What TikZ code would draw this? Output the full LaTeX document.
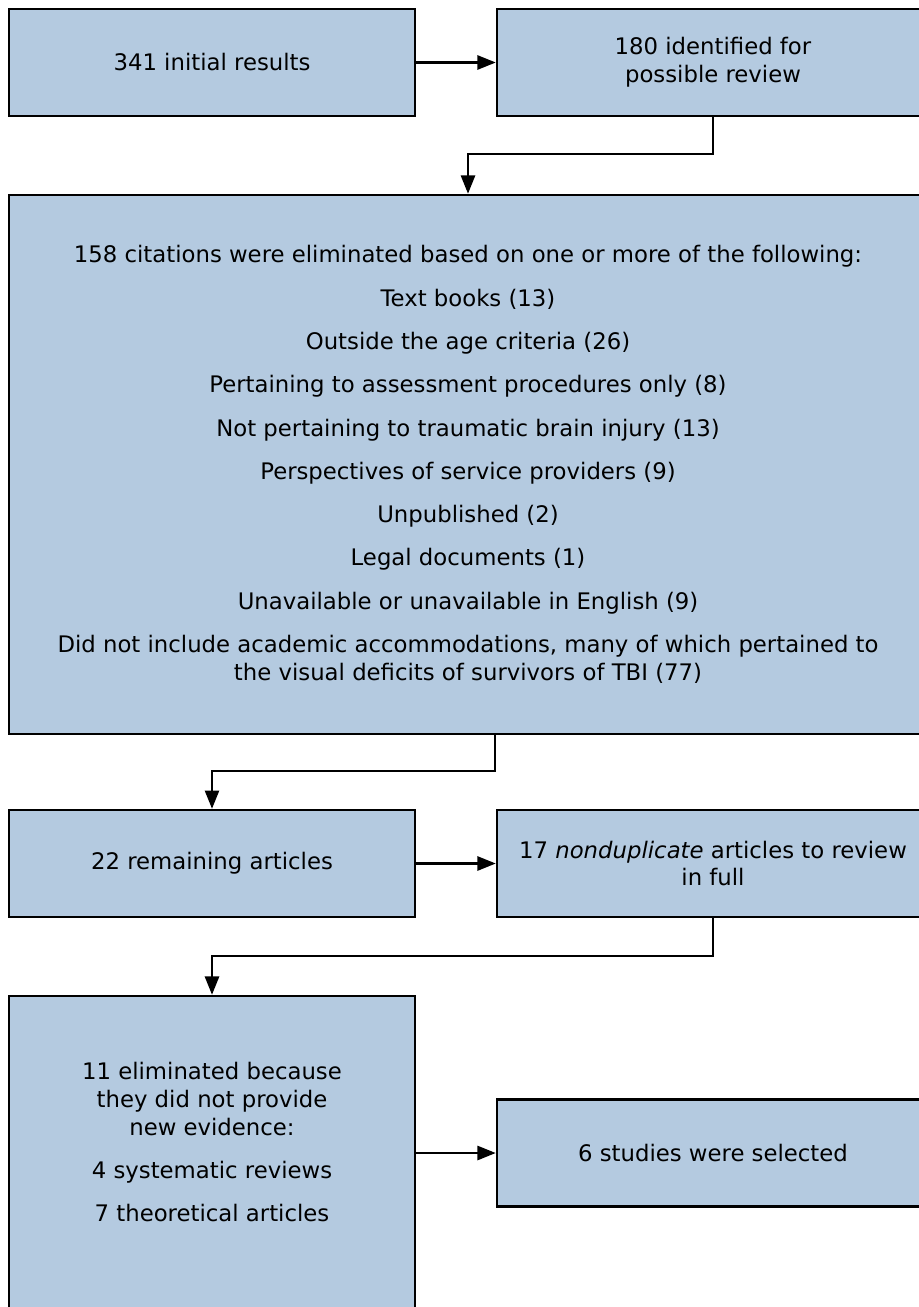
\documentclass[tikz,border=0pt]{standalone}
\usepackage{fontspec}
\setmainfont{DejaVu Sans}
\usetikzlibrary{arrows.meta}
\definecolor{boxfill}{RGB}{180,202,224}

\begin{document}
\begin{tikzpicture}
		[x=0.025cm,y=-0.025cm,
		txt/.style={align=center,font=\fontsize{16.2}{19.9}\selectfont,inner sep=0pt},
		box/.style={txt,shape=rectangle,draw,fill=boxfill,line width=1.7pt},
		narrow/.style={box,minimum width=10.15cm,minimum height=2.675cm},
		wide/.style={box,minimum width=10.8cm,minimum height=2.675cm},
		link/.style={line width=1.7pt,-{Triangle[length=13pt,width=10pt]}}]
		\useasboundingbox (0,0) rectangle (919,1307);
		\clip (0,0) rectangle (919,1307);
		\node[narrow] (init) at (212,62.5) {341 initial results};
		\node[wide] (ident) at (713,62.5) {180 identified for\\possible review};
		%%
		\node[box,minimum width=22.95cm,minimum height=13.475cm] (exclude) at (468,464.5)
		{158 citations were eliminated based on one or more of the following:\\[10.9pt]
			Text books (13)\\[10.9pt]
			Outside the age criteria (26)\\[10.9pt]
			Pertaining to assessment procedures only (8)\\[10.9pt]
			Not pertaining to traumatic brain injury (13)\\[10.9pt]
			Perspectives of service providers (9)\\[10.9pt]
			Unpublished (2)\\[10.9pt]
			Legal documents (1)\\[10.9pt]
			Unavailable or unavailable in English (9)\\[10.9pt]
			Did not include academic accommodations, many of which pertained to\\
			the visual deficits of survivors of TBI (77)};
		%%
		\node[narrow] (remain) at (212,863.5) {22 remaining articles};
		\node[wide] (nondup) at (713,863.5) {17 \textit{nondup\-licate} articles to review\\in full};
		%%
		\node[box,minimum width=10.15cm,minimum height=7.85cm] (elim) at (212,1153) {};
		\node[txt] (elimtxt) at ([yshift=0.275cm]elim.center)
		{11 eliminated because\\they did not provide\\new evidence:\\[10.9pt]
			4 systematic reviews\\[10.9pt]
			7 theoretical articles};
		\node[wide] (selected) at (713,1153) {6 studies were selected};
		%%
		\path
		\foreach \startNode/\endNode in {init/ident,remain/nondup,elim/selected}
		{
			(\startNode) edge[link] (\endNode)
		};
		\draw[link] (ident.south) -- ++(0,37) -| (exclude.north);
		\draw[link] ([xshift=0.675cm]exclude.south) -- ++(0,36) -| (remain.north);
		\draw[link] (nondup.south) -- ++(0,38) -| (elim.north);
		\end{tikzpicture}
\end{document}
